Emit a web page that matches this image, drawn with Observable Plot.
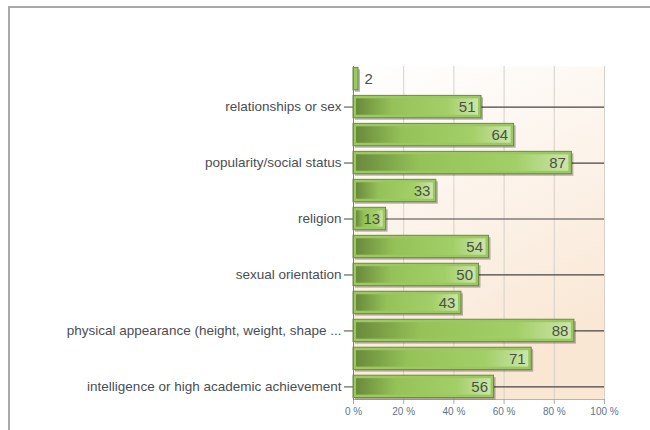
<!DOCTYPE html>
<html>
<head>
<meta charset="utf-8">
<script src="https://cdn.jsdelivr.net/npm/d3@7"></script>
<script src="https://cdn.jsdelivr.net/npm/@observablehq/plot@0.6"></script>
<style>
  html, body { margin: 0; padding: 0; background: #fff; }
  #wrap { position: relative; width: 650px; height: 430px; overflow: hidden; }
  #border { position: absolute; left: 8px; top: 6px; right: -4px; bottom: -4px;
            border-top: 2px solid #a9a9a9; border-left: 2px solid #a9a9a9; pointer-events: none; }
  #chart { position: absolute; left: 0; top: 0; }
</style>
</head>
<body>
<div id="wrap"><div id="chart"></div><div id="border"></div></div>
<script>
const categories = [
  "", "relationships or sex", "", "popularity/social status", "", "religion",
  "", "sexual orientation", "", "physical appearance (height, weight, shape ...",
  "", "intelligence or high academic achievement"
];
const values = [2, 51, 64, 87, 33, 13, 54, 50, 43, 88, 71, 56];
const xTicks = [0, 20, 40, 60, 80, 100];

const rows = values.map((v, i) => ({i, v, label: categories[i]}));
const labeled = rows.filter(d => d.label !== "").map(d => d.i);

const chart = Plot.plot({
  width: 650,
  height: 430,
  marginLeft: 353,
  marginRight: 46,
  marginTop: 66,
  marginBottom: 31,
  style: {fontFamily: "'Liberation Sans', Arial, sans-serif", background: "transparent", overflow: "visible"},
  x: {domain: [0, 100]},
  y: {domain: d3.range(values.length), paddingInner: 0.2, paddingOuter: 0.05, round: false, axis: null},
  marks: [
    Plot.frame({fill: "url(#bgGrad)", stroke: null}),
    Plot.gridX(xTicks, {stroke: "#d6d1cb", strokeOpacity: 1}),
    Plot.ruleY(labeled, {y: d => d, stroke: "#444", strokeWidth: 1.2}),
    Plot.frame({anchor: "bottom", stroke: "#b5b5b5"}),
    Plot.axisY({ticks: labeled, tickFormat: i => categories[i], tickSize: 9, tickPadding: 3,
      fontSize: 13.5, color: "#4a4e54", stroke: "#444", label: null}),
    Plot.axisX({ticks: xTicks, tickFormat: d => d + " %", tickSize: 5, tickPadding: 3,
      fontSize: 10, color: "#5b7690", stroke: "#aaa", label: null}),
    Plot.barX(rows, {x: "v", y: "i", fill: "#000", fillOpacity: 0.28, dx: 2, dy: 2}),
    Plot.barX(rows, {x: "v", y: "i", fill: "#9bc95f", stroke: "#6b8a42", strokeWidth: 1}),
    Plot.barX(rows, {x: "v", y: "i", fill: "url(#barGrad)", insetLeft: 3, insetRight: 3, insetTop: 3, insetBottom: 3}),
    Plot.frame({anchor: "left", stroke: "#7d7d7d"}),
    Plot.text(rows.filter(d => d.v >= 5), {x: "v", y: "i", text: d => String(d.v), textAnchor: "end", dx: -6,
      fontSize: 15, fill: "#4b5245"}),
    Plot.text(rows.filter(d => d.v < 5), {x: "v", y: "i", text: d => String(d.v), textAnchor: "start", dx: 6,
      fontSize: 15, fill: "#4b5245"})
  ]
});

d3.select(chart).insert("defs", ":first-child").html(`
  <linearGradient id="bgGrad" x1="0" y1="0" x2="0.35" y2="1">
    <stop offset="0" stop-color="#ffffff"/>
    <stop offset="0.35" stop-color="#fdf7f1"/>
    <stop offset="1" stop-color="#f9e7d4"/>
  </linearGradient>
  <linearGradient id="barGrad" x1="0" y1="0" x2="1" y2="0">
    <stop offset="0" stop-color="#6a8a3c"/>
    <stop offset="0.3" stop-color="#95c258"/>
    <stop offset="0.75" stop-color="#a3cf68"/>
    <stop offset="1" stop-color="#cbe5aa"/>
  </linearGradient>
`);

document.getElementById("chart").appendChild(chart);
</script>
</body>
</html>
